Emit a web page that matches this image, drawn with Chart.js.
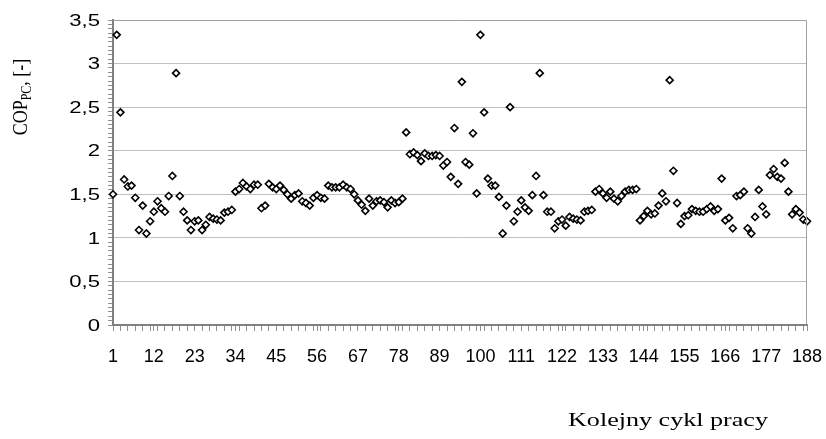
<!DOCTYPE html>
<html lang="pl">
<head>
<meta charset="UTF-8" />
<meta name="viewport" content="width=device-width, initial-scale=1.0" />
<script src="https://cdn.jsdelivr.net/npm/chart.js@4.4.0/dist/chart.umd.min.js"></script>
<title>COP PC</title>
<style>
  html, body { margin: 0; padding: 0; background: #fff; }
  #wrap { width: 826px; height: 439px; }
</style>
</head>
<body>
<div id="wrap"><canvas id="myChart" width="826" height="439"></canvas></div>
<script>
// kolejne cykle pracy 1..188
const cycles = Array.from({ length: 188 }, (_, i) => String(i + 1));
const xTickLabels = ["1", "12", "23", "34", "45", "56", "67", "78", "89", "100",
  "111", "122", "133", "144", "155", "166", "177", "188"];
const yTickLabels = ["0", "0,5", "1", "1,5", "2", "2,5", "3", "3,5"];

// COP pompy ciepla
const cop = [
  1.50, 3.33, 2.44, 1.67, 1.59, 1.60, 1.46, 1.09, 1.37, 1.05,
  1.19, 1.30, 1.42, 1.34, 1.30, 1.48, 1.71, 2.89, 1.48, 1.30,
  1.20, 1.09, 1.19, 1.20, 1.09, 1.15, 1.24, 1.22, 1.21, 1.20,
  1.29, 1.30, 1.32, 1.53, 1.56, 1.63, 1.59, 1.56, 1.61, 1.61,
  1.34, 1.37, 1.62, 1.58, 1.56, 1.60, 1.55, 1.50, 1.45, 1.49,
  1.51, 1.42, 1.40, 1.37, 1.46, 1.49, 1.46, 1.45, 1.60, 1.58,
  1.58, 1.58, 1.61, 1.58, 1.56, 1.50, 1.43, 1.38, 1.31, 1.45,
  1.37, 1.42, 1.43, 1.41, 1.35, 1.43, 1.40, 1.41, 1.45, 2.21,
  1.96, 1.98, 1.95, 1.88, 1.97, 1.94, 1.94, 1.95, 1.94, 1.83,
  1.87, 1.70, 2.26, 1.62, 2.79, 1.87, 1.84, 2.20, 1.51, 3.33,
  2.44, 1.68, 1.60, 1.60, 1.47, 1.05, 1.37, 2.50, 1.19, 1.30,
  1.43, 1.35, 1.31, 1.49, 1.71, 2.89, 1.49, 1.30, 1.30, 1.11,
  1.19, 1.21, 1.14, 1.24, 1.22, 1.21, 1.20, 1.30, 1.31, 1.32,
  1.53, 1.56, 1.51, 1.46, 1.53, 1.45, 1.42, 1.48, 1.53, 1.55,
  1.55, 1.56, 1.20, 1.25, 1.31, 1.27, 1.28, 1.37, 1.51, 1.42,
  2.81, 1.77, 1.40, 1.16, 1.25, 1.26, 1.33, 1.31, 1.30, 1.30,
  1.33, 1.36, 1.31, 1.33, 1.68, 1.20, 1.23, 1.11, 1.48, 1.49,
  1.53, 1.11, 1.05, 1.24, 1.55, 1.36, 1.27, 1.72, 1.79, 1.70,
  1.68, 1.86, 1.53, 1.27, 1.33, 1.29, 1.21, 1.19
];

const isMajor = v => Math.abs(v * 2 - Math.round(v * 2)) < 1e-6;

// tytuly osi (indeks dolny PC), etykiety osi Y (rozciagniete jak w oryginale), ramka
const titlesPlugin = {
  id: "titles",
  afterDraw(chart) {
    const ctx = chart.ctx;
    const area = chart.chartArea;
    const yScale = chart.scales.y;
    ctx.save();
    ctx.strokeStyle = "#a0a0a0";
    ctx.lineWidth = 1;
    ctx.beginPath();
    ctx.moveTo(area.left, area.top + 0.5);
    ctx.lineTo(area.right - 0.5, area.top + 0.5);
    ctx.lineTo(area.right - 0.5, area.bottom);
    ctx.stroke();
    ctx.restore();

    ctx.save();
    ctx.fillStyle = "#000";
    ctx.font = "17px 'Liberation Sans', Arial, sans-serif";
    ctx.textAlign = "right";
    ctx.textBaseline = "middle";
    yTickLabels.forEach((lab, i) => {
      const py = yScale.getPixelForValue(i * 0.5);
      ctx.save();
      ctx.translate(100, py + 1);
      ctx.scale(1.3, 1);
      ctx.fillText(lab, 0, 0);
      ctx.restore();
    });
    ctx.restore();

    ctx.save();
    ctx.fillStyle = "#000";
    ctx.textBaseline = "alphabetic";
    const big = "18px 'Liberation Serif', 'Times New Roman', serif";
    const small = "12px 'Liberation Serif', 'Times New Roman', serif";
    ctx.font = big;
    const w1 = ctx.measureText("COP").width;
    const w3 = ctx.measureText(", [-]").width;
    ctx.font = small;
    const w2 = ctx.measureText("PC").width;
    const total = w1 + w2 + w3;
    ctx.translate(20, 97);
    ctx.rotate(-Math.PI / 2);
    ctx.scale(1, 1.15);
    let x = -total / 2;
    ctx.font = big;
    ctx.fillText("COP", x, 6);
    x += w1;
    ctx.font = small;
    ctx.fillText("PC", x, 9.5);
    x += w2;
    ctx.font = big;
    ctx.fillText(", [-]", x, 6);
    ctx.restore();

    ctx.save();
    ctx.fillStyle = "#000";
    ctx.font = big;
    const t = "Kolejny cykl pracy";
    const tw = ctx.measureText(t).width;
    ctx.translate(568, 426);
    ctx.scale(200 / tw, 1);
    ctx.fillText(t, 0, 0);
    ctx.restore();
  }
};

const ctx = document.getElementById("myChart").getContext("2d");
const myChart = new Chart(ctx, {
  type: "line",
  data: {
    labels: cycles,
    datasets: [{
      data: cop,
      showLine: false,
      pointStyle: "rectRot",
      pointRadius: 3.5,
      pointHoverRadius: 3.5,
      pointBorderWidth: 1.6,
      pointBackgroundColor: "#fff",
      pointBorderColor: "#000",
      clip: false
    }]
  },
  options: {
    responsive: false,
    animation: false,
    devicePixelRatio: 1,
    layout: { padding: { top: 20, right: 19, bottom: 0, left: 0 } },
    plugins: { legend: { display: false }, tooltip: { enabled: false } },
    scales: {
      x: {
        type: "category",
        offset: false,
        afterFit(scale) {
          scale.height = 114;
          scale.paddingLeft = 0;
          scale.paddingRight = 0;
        },
        border: { color: "#808080", width: 2 },
        grid: {
          drawOnChartArea: false,
          tickLength: 6,
          color: c => (c.index % 2 === 0 || xTickLabels.includes(cycles[c.index])) ? "#909090" : "rgba(0,0,0,0)"
        },
        ticks: {
          autoSkip: false,
          maxRotation: 0,
          minRotation: 0,
          padding: 15,
          color: "#000",
          font: { family: "'Liberation Sans', Arial, sans-serif", size: 18 },
          callback(value, index) {
            const l = cycles[index];
            return xTickLabels.includes(l) ? l : "";
          }
        }
      },
      y: {
        min: 0,
        max: 3.5,
        afterFit(scale) { scale.width = 113; },
        border: { color: "#808080", width: 2 },
        grid: {
          tickLength: 5,
          color: c => isMajor(c.tick.value) ? "#c0c0c0" : "rgba(0,0,0,0)",
          tickColor: "#909090"
        },
        ticks: {
          stepSize: 0.05,
          autoSkip: false,
          display: false
        }
      }
    }
  },
  plugins: [titlesPlugin]
});
</script>
</body>
</html>
